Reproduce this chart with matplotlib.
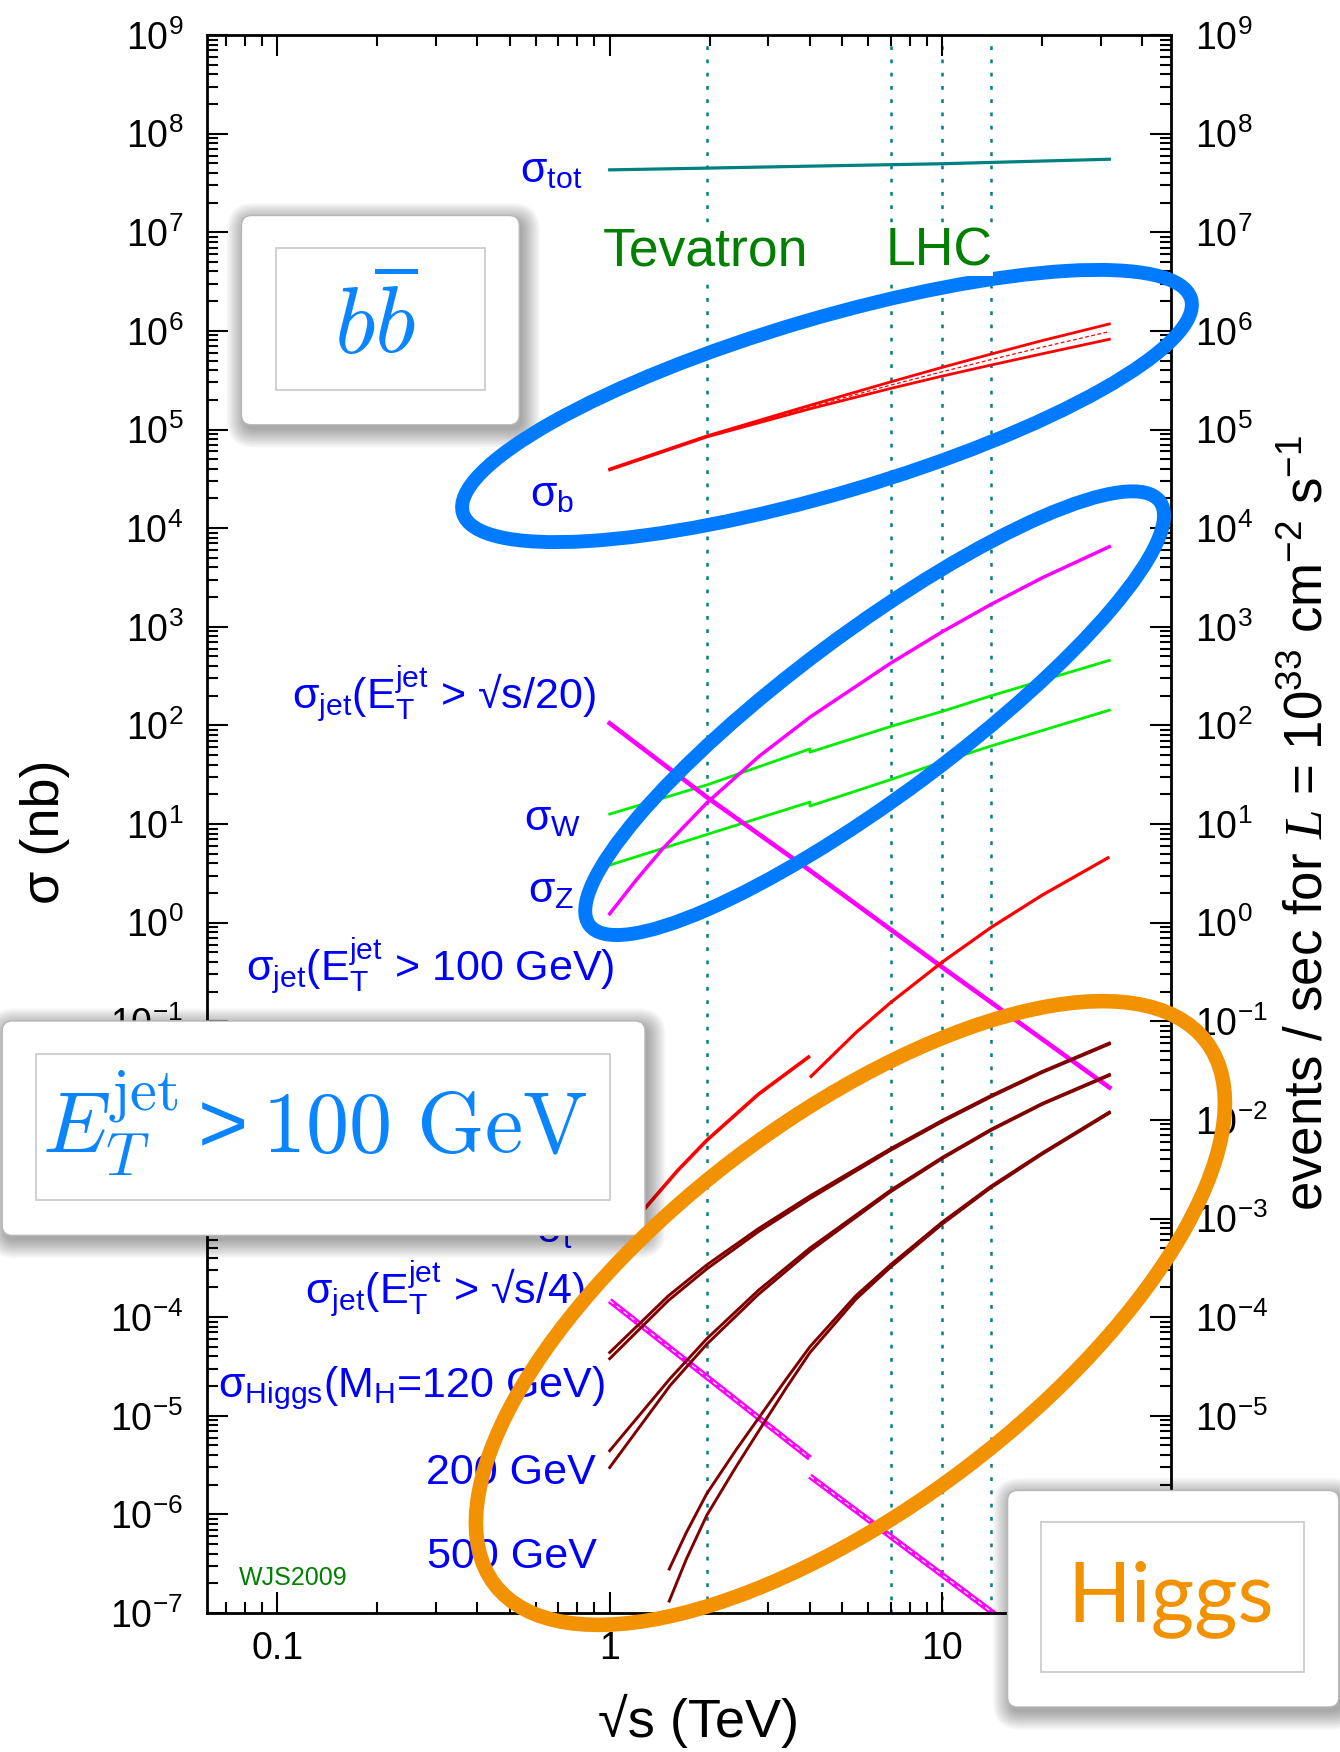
import matplotlib
matplotlib.use('Agg')
import matplotlib.pyplot as plt
import matplotlib.transforms as mtransforms
from matplotlib.patches import Ellipse, FancyBboxPatch
from matplotlib.ticker import FixedLocator, FixedFormatter, LogLocator, NullFormatter

W, H = 1340, 1752

plt.rcParams['font.family'] = ['Liberation Sans', 'DejaVu Sans']
plt.rcParams['mathtext.fontset'] = 'custom'
plt.rcParams['mathtext.rm'] = 'Liberation Sans'
plt.rcParams['mathtext.it'] = 'Liberation Serif:italic'
plt.rcParams['mathtext.bf'] = 'Liberation Sans:bold'
plt.rcParams['mathtext.default'] = 'regular'

# ---- cross sections: sqrt(s) in TeV, sigma in nb ----
tot_x = [1, 1.96, 4, 10, 31.8]
tot_y = [4.29e7, 4.47e7, 4.68e7, 4.95e7, 5.50e7]

b_x = [1, 1.96, 4, 7, 10, 14, 20, 31.8]
b_hi = [3.98e4, 8.61e4, 1.76e5, 3.04e5, 4.27e5, 5.81e5, 7.98e5, 1.175e6]
b_mid = [3.94e4, 8.51e4, 1.69e5, 2.82e5, 3.85e5, 5.11e5, 6.84e5, 9.83e5]
b_lo = [3.89e4, 8.41e4, 1.62e5, 2.61e5, 3.48e5, 4.50e5, 5.86e5, 8.22e5]

w_x = [1, 1.96, 4, 4, 7, 10, 14, 31.8]
w_y = [12.6, 24.9, 57.7, 53.5, 97.5, 138.7, 199, 456]
z_x = [1, 1.96, 4, 4, 7, 10, 14, 31.8]
z_y = [3.83, 7.83, 16.7, 15.2, 28.2, 42.7, 61.7, 142.6]

j100_x = [1, 1.2, 1.44, 1.96, 2.82, 4, 7, 10, 14, 20, 31.8]
j100_y = [1.23, 2.69, 5.57, 16.4, 48.9, 121, 428, 889, 1683, 3141, 6486]

j20_x = [1, 1.96, 4, 10, 31.8]
j20_y = [105, 18.7, 3.38, 0.353, 0.0213]

j4_tev_x = [1, 4]
j4_tev_y = [1.47e-4, 3.72e-6]
j4_lhc_x = [4, 31.8]
j4_lhc_y = [2.44e-6, 1.32e-8]

top_tev_x = [1.12, 1.28, 1.6, 1.96, 2.8, 4]
top_tev_y = [7.94e-4, 1.28e-3, 3.06e-3, 6.22e-3, 1.82e-2, 4.44e-2]
top_lhc_x = [4, 5.5, 7, 10, 14, 20, 31.8]
top_lhc_y = [2.69e-2, 7.67e-2, 0.155, 0.398, 0.891, 1.905, 4.62]

h120_x = [1, 1.5, 1.96, 2.8, 4, 7, 10, 14, 20, 31.8]
h120_hi = [4.38e-5, 1.64e-4, 3.39e-4, 7.89e-4, 1.69e-3, 5.12e-3, 9.89e-3, 1.76e-2, 3.10e-2, 6.01e-2]
h120_lo = [3.79e-5, 1.47e-4, 3.09e-4, 7.36e-4, 1.59e-3, 4.93e-3, 9.57e-3, 1.71e-2, 3.03e-2, 5.87e-2]
h200_x = [1, 1.52, 1.96, 2.8, 4, 7, 10, 14, 20, 31.8]
h200_hi = [4.42e-6, 2.39e-5, 6.05e-5, 1.87e-4, 5.01e-4, 1.94e-3, 4.16e-3, 8.00e-3, 1.47e-2, 2.88e-2]
h200_lo = [2.99e-6, 2.03e-5, 5.33e-5, 1.70e-4, 4.68e-4, 1.87e-3, 4.05e-3, 7.82e-3, 1.44e-2, 2.82e-2]
h500_x = [1.51, 1.7, 1.96, 2.4, 2.83, 3.4, 4, 5.5, 7, 10, 14, 20, 31.8]
h500_hi = [2.79e-7, 6.55e-7, 1.63e-6, 4.52e-6, 9.89e-6, 2.37e-5, 5.01e-5, 1.65e-4, 3.41e-4,
           9.20e-4, 2.12e-3, 4.63e-3, 1.20e-2]
h500_lo = [1.32e-7, 3.52e-7, 9.84e-7, 3.05e-6, 7.33e-6, 1.93e-5, 4.37e-5, 1.52e-4, 3.22e-4,
           8.79e-4, 2.05e-3, 4.51e-3, 1.17e-2]

colliders = [1.96, 7, 10, 14]
ytick_exp = list(range(-7, 10))
# tick labels that sit completely under the callout boxes
hidden_left = [-3, -2]
hidden_right = [-7, -6]

TEAL = '#008080'
RED = '#FF0000'
MAROON = '#800000'
MAG = '#FF00FF'
GREEN = '#00EE00'
LBLUE = '#0000FF'
BOXBLUE = '#0A84FF'
ELL_BLUE = '#007BFF'
ORANGE = '#F39200'
DKGREEN = '#008000'

fig = plt.figure(figsize=(W / 100, H / 100), dpi=100)
ax = fig.add_axes([206.7 / W, 1 - 1613 / H, (1171.2 - 206.7) / W, (1613 - 35) / H])
# pixel coordinates measured from the top-left corner of the image
pix = mtransforms.Affine2D().scale(1.0 / W, -1.0 / H).translate(0, 1) + fig.transFigure

ax.set_xscale('log')
ax.set_yscale('log')
ax.set_xlim(0.0614, 48.8)
ax.set_ylim(1e-7, 1e9)

for xc in colliders:
    ax.axvline(xc, color=TEAL, lw=1.8, ls=(0, (1.5, 3.8)), zorder=1)

ax.plot(tot_x, tot_y, color=TEAL, lw=2.3)
ax.plot(b_x, b_hi, color=RED, lw=2.0)
ax.plot(b_x, b_lo, color=RED, lw=2.0)
ax.plot(b_x, b_mid, color=RED, lw=0.9, ls=(0, (3, 2)))
ax.plot(w_x, w_y, color=GREEN, lw=2.0)
ax.plot(z_x, z_y, color=GREEN, lw=2.0)
ax.plot(j100_x, j100_y, color=MAG, lw=2.5)
ax.plot(j20_x, j20_y, color=MAG, lw=3.3)
for xs, ys in [(j4_tev_x, j4_tev_y), (j4_lhc_x, j4_lhc_y)]:
    ax.plot(xs, ys, color=MAG, lw=4.2, solid_capstyle='butt')
    ax.plot(xs, ys, color='white', lw=0.9, ls=(0, (4, 3)))
ax.plot(top_tev_x, top_tev_y, color=RED, lw=2.6, solid_capstyle='butt')
ax.plot(top_lhc_x, top_lhc_y, color=RED, lw=2.3, solid_capstyle='butt')
for xs, hi, lo in [(h120_x, h120_hi, h120_lo), (h200_x, h200_hi, h200_lo),
                   (h500_x, h500_hi, h500_lo)]:
    ax.plot(xs, hi, color=MAROON, lw=2.1)
    ax.plot(xs, lo, color=MAROON, lw=2.1)

# axes styling
for s in ax.spines.values():
    s.set_linewidth(2.0)
ax.xaxis.set_major_locator(FixedLocator([0.1, 1, 10]))
ax.xaxis.set_major_formatter(FixedFormatter(['0.1', '1', '10']))
ax.xaxis.set_minor_locator(LogLocator(base=10, subs=range(2, 10), numticks=100))
ax.xaxis.set_minor_formatter(NullFormatter())
ax.yaxis.set_major_locator(FixedLocator([10.0 ** k for k in ytick_exp]))
ax.yaxis.set_major_formatter(FixedFormatter(['10$^{%d}$' % k for k in ytick_exp]))
ax.yaxis.set_minor_locator(LogLocator(base=10, subs=range(2, 10), numticks=100))
ax.yaxis.set_minor_formatter(NullFormatter())
ax.tick_params(which='both', direction='in', top=True, right=True,
               labelright=True, width=1.5, labelsize=27)
ax.tick_params(which='major', length=15)
ax.tick_params(which='minor', length=8)
ax.tick_params(axis='x', pad=13)
ax.tick_params(axis='y', pad=17)

fig.canvas.draw()
for k, t in zip(ytick_exp, ax.yaxis.get_major_ticks()):
    if k in hidden_left:
        t.label1.set_visible(False)
    if k in hidden_right:
        t.label2.set_visible(False)


def ptext(x, y, s, **kw):
    kw.setdefault('zorder', 0.5)
    return fig.text(x, y, s, transform=pix, **kw)


# axis titles
ptext(45, 832, 'σ (nb)', rotation=90, ha='center', va='center', fontsize=39)
ptext(699, 1721, '√s (TeV)', ha='center', va='center', fontsize=39)
ptext(1308, 823, r'events / sec for $\mathit{L}$ = 10$^{33}$ cm$^{-2}$ s$^{-1}$',
      rotation=90, ha='center', va='center', fontsize=38)

# curve labels
lab = dict(color=LBLUE, fontsize=31, ha='right', va='baseline')
ptext(582, 182, 'σ$_{tot}$', **lab)
ptext(574, 506, 'σ$_{b}$', **lab)
ptext(596, 709, 'σ$_{jet}$(E$_{T}^{jet}$ > √s/20)', **lab)
ptext(581, 830, 'σ$_{W}$', **lab)
ptext(574, 902, 'σ$_{Z}$', **lab)
ptext(615, 981, 'σ$_{jet}$(E$_{T}^{jet}$ > 100 GeV)', **lab)
ptext(573, 1242, 'σ$_{t}$', **lab)
ptext(585, 1304, 'σ$_{jet}$(E$_{T}^{jet}$ > √s/4)', **lab)
ptext(605, 1397, 'σ$_{Higgs}$(M$_{H}$=120 GeV)', **lab)
ptext(596, 1484, '200 GeV', **lab)
ptext(597, 1568, '500 GeV', **lab)
ptext(239, 1585, 'WJS2009', color=DKGREEN, fontsize=18, ha='left', va='baseline')

# collider names with white background
ptext(706, 265, 'Tevatron', color=DKGREEN, fontsize=38.5, ha='center', va='baseline',
      zorder=4, bbox=dict(facecolor='white', edgecolor='none', pad=0))
ptext(939, 265, 'LHC', color=DKGREEN, fontsize=38.5, ha='center', va='baseline',
      zorder=4, bbox=dict(facecolor='white', edgecolor='none', pad=0))


def callout(outer, inner):
    x0, y0, x1, y1 = outer
    for i in range(12):
        e = 1.6 * i
        fig.add_artist(FancyBboxPatch((x0 - e + 3, y0 - e + 5), x1 - x0 + 2 * e, y1 - y0 + 2 * e,
                                      boxstyle='round,pad=0,rounding_size=%g' % (10 + e),
                                      transform=pix, fc='black', ec='none', alpha=0.03, zorder=2))
    fig.add_artist(FancyBboxPatch((x0, y0), x1 - x0, y1 - y0,
                                  boxstyle='round,pad=0,rounding_size=10',
                                  transform=pix, fc='white', ec='#b8b8b8', lw=1.0, zorder=2.1))
    a0, b0, a1, b1 = inner
    fig.add_artist(FancyBboxPatch((a0, b0), a1 - a0, b1 - b0, boxstyle='square,pad=0',
                                  transform=pix, fc='white', ec='#c8c8c8', lw=1.2, zorder=2.2))


callout((241.5, 215.5, 519.2, 424.8), (275.6, 247.6, 485.0, 390.4))
ptext(376, 354, r'$\mathit{b}\overline{\mathit{b}}$', math_fontfamily='cm', fontsize=68,
      color=BOXBLUE, ha='center', va='baseline', zorder=2.3)

callout((2.2, 1021, 645, 1235.4), (35.7, 1053.7, 610.3, 1199.6))
ptext(315, 1154, r'$\mathit{E}_{\mathit{T}}^{\mathrm{jet}} > \mathrm{100\ GeV}$',
      math_fontfamily='cm', fontsize=62, color=BOXBLUE, ha='center', va='baseline', zorder=2.3)

callout((1007.6, 1490.5, 1338.8, 1707), (1040.9, 1521.5, 1303.8, 1671.8))
ptext(1171, 1621, 'Higgs', family=['Lato', 'DejaVu Sans'], fontsize=60, color=ORANGE,
      ha='center', va='baseline', zorder=2.3)

# highlight ellipses
for cx, cy, ew, eh, ang, col, lw in [(827, 406, 759, 175, 16.4, ELL_BLUE, 10),
                                     (874.6, 713.2, 710.6, 164, 36.6, ELL_BLUE, 10),
                                     (850.4, 1313, 895, 386, 37.35, ORANGE, 10.5)]:
    fig.add_artist(Ellipse((cx, cy), ew, eh, angle=-ang, transform=pix, fill=False,
                           ec=col, lw=lw, zorder=3))

fig.savefig('out.png', dpi=100)
